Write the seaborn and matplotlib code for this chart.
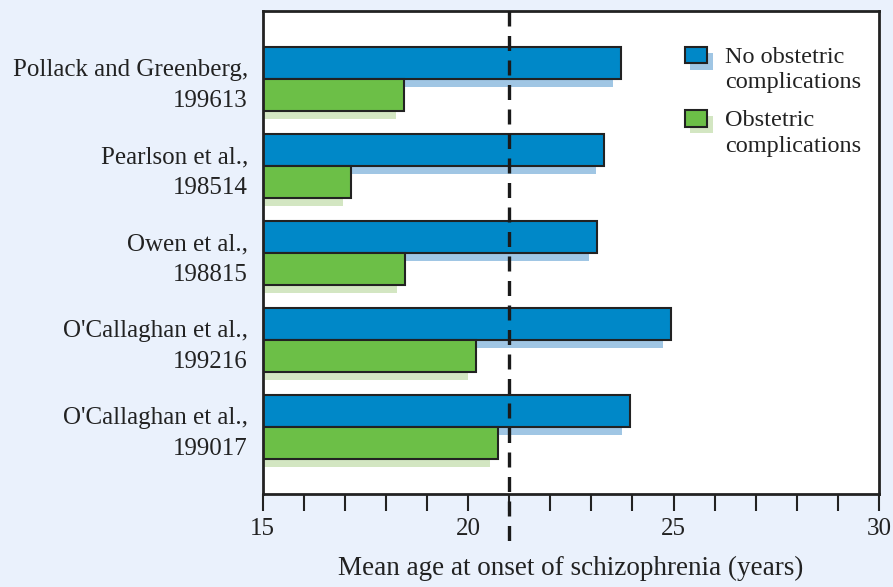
import matplotlib
matplotlib.use("Agg")
import matplotlib.pyplot as plt
import matplotlib.transforms as mtransforms
from matplotlib.patches import Rectangle
from matplotlib.ticker import MultipleLocator
import pandas as pd
import seaborn as sns

# data
studies = [
    "Pollack and Greenberg,\n199613",
    "Pearlson et al.,\n198514",
    "Owen et al.,\n198815",
    "O'Callaghan et al.,\n199216",
    "O'Callaghan et al.,\n199017",
]
no_complications = [23.72, 23.31, 23.14, 24.93, 23.94]
complications = [18.45, 17.15, 18.47, 20.19, 20.74]
groups = ["No obstetric\ncomplications", "Obstetric\ncomplications"]
reference_age = 21

blue, green = "#0088c8", "#6cbf47"
blue_shadow, green_shadow = "#a0c6e4", "#d3e6c2"
bg = "#eaf1fc"
ink = "#222222"

df = pd.DataFrame({
    "study": studies * 2,
    "group": [groups[0]] * len(studies) + [groups[1]] * len(studies),
    "age": no_complications + complications,
})

sns.set_style("ticks")
plt.rcParams["font.family"] = ["Liberation Serif", "DejaVu Serif"]

fig = plt.figure(figsize=(8.93, 5.87), dpi=100, facecolor=bg)
ax = fig.add_axes([262.5 / 893, 93 / 587, 616.5 / 893, 483 / 587])
ax.set_facecolor("white")

# shadows: same bars, shifted 8 px left/down
n0 = len(ax.patches)
sns.barplot(data=df, x="age", y="study", hue="group", hue_order=groups,
            orient="h", palette=[blue_shadow, green_shadow], width=0.736,
            saturation=1, errorbar=None, linewidth=0, legend=False, ax=ax)
shift = mtransforms.ScaledTranslation(-0.08, -0.08, fig.dpi_scale_trans)
for p in ax.patches[n0:]:
    p.set_transform(ax.transData + shift)
    p.set_zorder(1)

n1 = len(ax.patches)
sns.barplot(data=df, x="age", y="study", hue="group", hue_order=groups,
            orient="h", palette=[blue, green], width=0.736, saturation=1,
            errorbar=None, edgecolor=ink, linewidth=1.5, legend=False, ax=ax)
for p in ax.patches[n1:]:
    p.set_zorder(2)

ax.set_xlim(15, 30)
ax.set_ylim(4.77, -0.78)

# reference line, runs below the axis
trans = mtransforms.blended_transform_factory(ax.transData, ax.transAxes)
ln, = ax.plot([reference_age, reference_age], [1, -0.1], transform=trans,
              clip_on=False, color="#1a1a1a", lw=2.4, zorder=5)
ln.set_dashes((4.5, 2.85))

ax.xaxis.set_major_locator(MultipleLocator(5))
ax.xaxis.set_minor_locator(MultipleLocator(1))
ax.tick_params(axis="x", which="both", length=12.5, width=1.5, color=ink,
               direction="out", labelsize=18, pad=4.5, labelcolor=ink)
ax.tick_params(axis="y", length=0, pad=10.5, labelsize=18, labelcolor=ink)
ax.set_ylabel("")
ax.set_xlabel("Mean age at onset of schizophrenia (years)", fontsize=19.5,
              color=ink, labelpad=12)
for lbl in ax.get_yticklabels():
    lbl.set_linespacing(1.5)

for s in ax.spines.values():
    s.set_visible(True)
    s.set_linewidth(2)
    s.set_color(ink)

# legend drawn by hand with its shadows
w, h = 22.6 / 616.5, 16.7 / 483
dx, dy = 5.5 / 616.5, 6.5 / 483
for y0, col, sh, lab, ty in [(0.8917, blue, blue_shadow, groups[0], 0.878),
                             (0.7605, green, green_shadow, groups[1], 0.747)]:
    ax.add_patch(Rectangle((0.685 + dx, y0 - dy), w, h, transform=ax.transAxes,
                           facecolor=sh, edgecolor="none", zorder=6))
    ax.add_patch(Rectangle((0.685, y0), w, h, transform=ax.transAxes,
                           facecolor=col, edgecolor=ink, linewidth=1.5, zorder=7))
    ax.text(0.750, ty, lab, transform=ax.transAxes, fontsize=17.5, color=ink,
            va="center", ha="left", linespacing=1.3, zorder=7)

fig.savefig("out.png", dpi=100, facecolor=bg)
